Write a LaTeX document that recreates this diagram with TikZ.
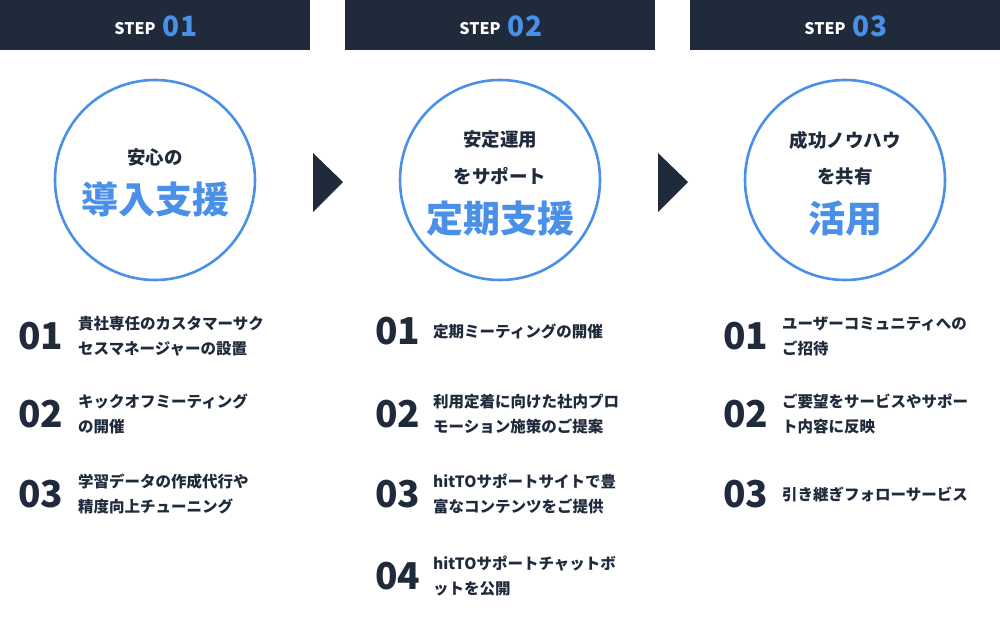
\documentclass[tikz,border=0pt]{standalone}
\usepackage{fontspec}
\setmainfont{Noto Sans CJK JP}
\usetikzlibrary{positioning}
\definecolor{navy}{HTML}{1F2A3B}
\definecolor{sky}{HTML}{4A8FE8}

\begin{document}
\begin{tikzpicture}[x=1pt,y=-1pt,
  bar/.style={fill=navy,draw=none,minimum width=310pt,minimum height=50pt,inner sep=0pt},
  ring/.style={circle,draw=sky,line width=2.6pt,minimum size=200pt,inner sep=0pt},
  small/.style={font=\fontsize{18.5}{18.5}\selectfont\bfseries,text=navy},
  big/.style={font=\fontsize{37}{37}\selectfont\bfseries,text=sky},
  num/.style={font=\fontsize{37}{37}\selectfont\bfseries,text=navy,anchor=west,inner sep=0pt},
  item/.style={font=\fontsize{15.5}{25}\selectfont\bfseries,text=navy,anchor=west,align=left,inner sep=0pt}]

  \useasboundingbox (0,0) rectangle (1000,618);

  % step headers
  \foreach \n/\x in {1/155,2/500,3/845}{
    \node[bar] (bar\n) at (\x,25) {};
    \node[text=white,font=\fontsize{16}{16}\selectfont\bfseries] at (\x-20,29) {STEP};
    \node[text=sky,font=\fontsize{28}{28}\selectfont\bfseries] at (\x+25,26) {0\n};
    \node[ring] (ring\n) at (\x,180) {};
  }

  % arrows
  \fill[navy] (313,153) -- (343,182) -- (313,212) -- cycle;
  \fill[navy] (658,153) -- (688,182) -- (658,212) -- cycle;

  % circle texts
  \node[small] (c1a) at (155,157) {安心の};
  \node[big] (c1b) at (155,199) {導入支援};
  \node[small] (c2a) at (500,140) {安定運用};
  \node[small] (c2b) at (500,176) {をサポート};
  \node[big] (c2c) at (500,219) {定期支援};
  \node[small] (c3a) at (845,140) {成功ノウハウ};
  \node[small] (c3b) at (845,176) {を共有};
  \node[big] (c3c) at (845,219) {活用};

  % column 1
  \node[num] (n11) at (18,336) {01};
  \node[item] (t11) at (78,336) {貴社専任のカスタマーサク\\セスマネージャーの設置};
  \node[num] (n12) at (18,414) {02};
  \node[item] (t12) at (78,414) {キックオフミーティング\\の開催};
  \node[num] (n13) at (18,494) {03};
  \node[item] (t13) at (78,494) {学習データの作成代行や\\精度向上チューニング};

  % column 2
  \node[num] (n21) at (375,331) {01};
  \node[item] (t21) at (433,331) {定期ミーティングの開催};
  \node[num] (n22) at (375,414) {02};
  \node[item] (t22) at (433,414) {利用定着に向けた社内プロ\\モーション施策のご提案};
  \node[num] (n23) at (375,494) {03};
  \node[item] (t23) at (433,494) {hitTOサポートサイトで豊\\富なコンテンツをご提供};
  \node[num] (n24) at (375,576) {04};
  \node[item] (t24) at (433,576) {hitTOサポートチャットボ\\ットを公開};

  % column 3
  \node[num] (n31) at (723,336) {01};
  \node[item] (t31) at (782,336) {ユーザーコミュニティへの\\ご招待};
  \node[num] (n32) at (723,414) {02};
  \node[item] (t32) at (782,414) {ご要望をサービスやサポー\\ト内容に反映};
  \node[num] (n33) at (723,494) {03};
  \node[item] (t33) at (782,494) {引き継ぎフォローサービス};
\end{tikzpicture}
\end{document}
